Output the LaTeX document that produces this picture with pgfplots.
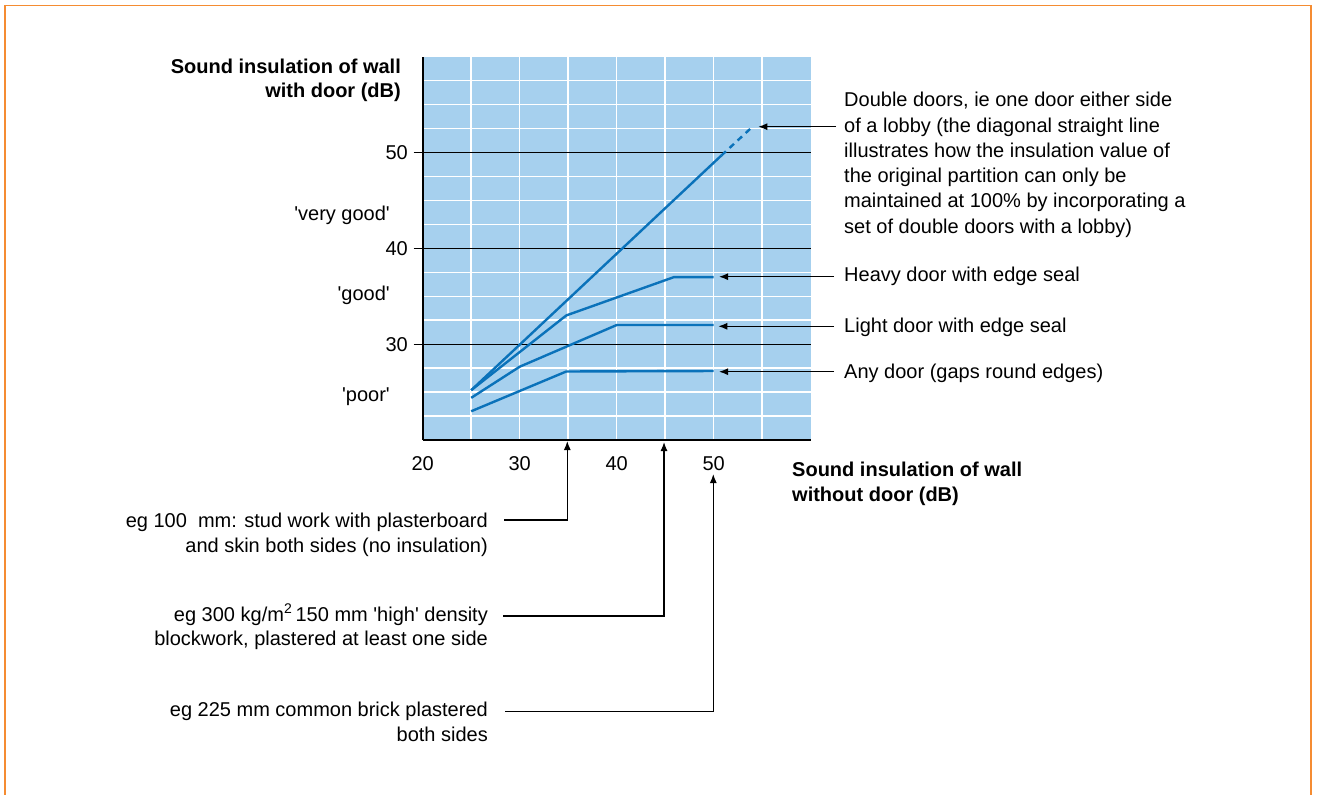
\documentclass[border=0pt]{standalone}
\usepackage{pgfplots}
\pgfplotsset{compat=1.18}
\usepackage{fontspec}
\setmainfont{Liberation Sans}
\usetikzlibrary{arrows.meta}
\definecolor{bgblue}{RGB}{166,208,238}
\definecolor{lineblue}{RGB}{10,114,186}
\definecolor{frameorange}{RGB}{245,140,50}
\begin{document}
\fontsize{20bp}{25.3bp}\selectfont
\begin{tikzpicture}[font=\fontsize{20bp}{25.3bp}\selectfont]
\begin{scope}[x=1bp,y=-1bp]
\path[use as bounding box] (0,0) rectangle (1318,794);
\fill[white] (0,0) rectangle (1318,794);
\draw[frameorange, line width=1.6bp] (4.7,800) -- (4.7,5.7) -- (1311,5.7) -- (1311,800);
\end{scope}
\begin{axis}[
  at={(422.7bp,-440bp)}, anchor=south west,
  scale only axis, width=388bp, height=383.3bp,
  xmin=20, xmax=60, ymin=20, ymax=60,
  axis x line*=bottom, axis y line*=left,
  axis line style={-, black, line width=1.8bp},
  axis background/.style={fill=bgblue},
  tick align=outside,
  major tick length=9bp, minor tick length=0pt,
  tick style={draw=none},
  xtick={20,30,40,50}, xticklabels={20,30,40,50},
  minor xtick={25,35,45,55},
  ytick={22.5,25,27.5,32.5,35,37.5,42.5,45,47.5,52.5,55,57.5},
  yticklabels={},
  extra y ticks={30,40,50},
  extra y tick labels={30,40,50},
  extra y tick style={grid style={black, line width=1.2bp}, major grid style={black, line width=1.2bp}, tick style={draw=black, line width=1.2bp}},
  grid=both,
  grid style={white, line width=1.5bp},
  major grid style={white, line width=1.5bp},
  minor grid style={white, line width=1.5bp},
  tick label style={font=\fontsize{20bp}{24bp}\selectfont, inner sep=0pt},
  xticklabel style={anchor=north, yshift=-7bp},
  yticklabel style={anchor=east, xshift=-5.7bp},
]
\addplot[lineblue, line width=2.4bp] coordinates {(25,25.2) (50.8,49.7)};
\addplot[lineblue, line width=2.4bp, dash pattern=on 6bp off 5bp] coordinates {(50.8,49.7) (53.9,52.6)};
\addplot[lineblue, line width=2.4bp] coordinates {(25,25.2) (34.8,33.0) (45.9,37.0) (50,37.0)};
\addplot[lineblue, line width=2.4bp] coordinates {(25,24.4) (30,27.65) (40,32.0) (50,32.0)};
\addplot[lineblue, line width=2.4bp] coordinates {(25,23.0) (34.8,27.15) (50,27.2)};
\end{axis}
\begin{scope}[x=1bp,y=-1bp, arr/.style={line width=1.2bp, -{Latex[length=9bp,width=7bp]}}, lab/.style={inner sep=0pt}]
% axis titles
\node[lab, anchor=base east, font=\fontsize{20bp}{24bp}\selectfont\bfseries] at (401,73.3) {Sound insulation of wall};
\node[lab, anchor=base east, font=\fontsize{20bp}{24bp}\selectfont\bfseries] at (401,97.8) {with door (dB)};
\node[lab, anchor=base west, font=\fontsize{20bp}{24bp}\selectfont\bfseries] at (792,476) {Sound insulation of wall};
\node[lab, anchor=base west, font=\fontsize{20bp}{24bp}\selectfont\bfseries] at (792,501.5) {without door (dB)};
% category labels
\node[lab, anchor=base east] at (390,220) {\textquotesingle very good\textquotesingle};
\node[lab, anchor=base east] at (390,300) {\textquotesingle good\textquotesingle};
\node[lab, anchor=base east] at (390,401.5) {\textquotesingle poor\textquotesingle};
% right annotations
\draw[arr] (836,126.7) -- (758.3,126.7);
\draw[arr] (834,276.7) -- (719,276.7);
\draw[arr] (834,326.3) -- (718.3,326.3);
\draw[arr] (834,371.7) -- (719,371.7);
\node[lab, anchor=base west] at (844,106.7) {Double doors, ie one door either side};
\node[lab, anchor=base west] at (844,132.0) {of a lobby (the diagonal straight line};
\node[lab, anchor=base west] at (844,157.3) {illustrates how the insulation value of};
\node[lab, anchor=base west] at (844,182.6) {the original partition can only be};
\node[lab, anchor=base west] at (844,207.9) {maintained at 100\% by incorporating a};
\node[lab, anchor=base west] at (844,233.2) {set of double doors with a lobby)};
\node[lab, anchor=base west] at (844,281.7) {Heavy door with edge seal};
\node[lab, anchor=base west] at (844,332.7) {Light door with edge seal};
\node[lab, anchor=base west] at (844,378.3) {Any door (gaps round edges)};
% bottom annotations
\draw[arr] (504,520) -- (567.3,520) -- (567.3,441);
\draw[arr] (503,616) -- (664,616) -- (664,442);
\draw[arr] (505,711.7) -- (713.3,711.7) -- (713.3,474);
\node[lab, anchor=base east] at (488,527) {eg 100\ \ mm: stud work with plasterboard};
\node[lab, anchor=base east] at (488,552) {and skin both sides (no insulation)};
\node[lab, anchor=base east] at (488,621) {eg 300 kg/m\textsuperscript{2}\,150 mm \textquotesingle high\textquotesingle\ density};
\node[lab, anchor=base east] at (488,645.5) {blockwork, plastered at least one side};
\node[lab, anchor=base east] at (488,716.7) {eg 225 mm common brick plastered};
\node[lab, anchor=base east] at (488,741) {both sides};
\end{scope}
\end{tikzpicture}
\end{document}
